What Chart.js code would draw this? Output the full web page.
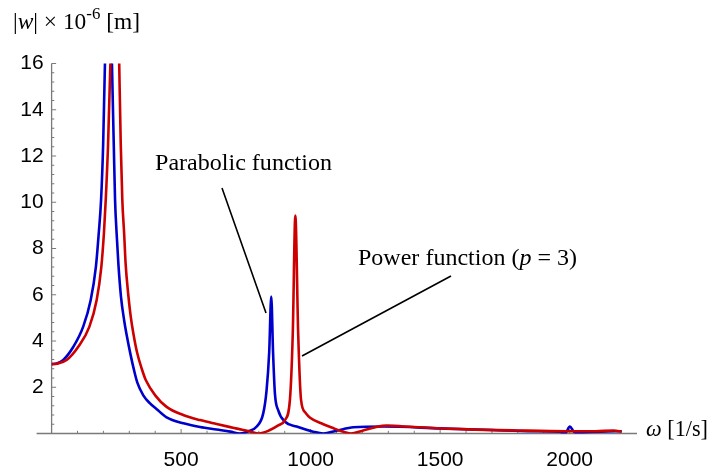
<!DOCTYPE html>
<html>
<head>
<meta charset="utf-8">
<script src="https://cdn.jsdelivr.net/npm/chart.js@4/dist/chart.umd.min.js"></script>
<style>
  html, body { margin: 0; padding: 0; background: #fff; }
  #wrap { width: 712px; height: 471px; position: relative; }
</style>
</head>
<body>
<div id="wrap"><canvas id="chart"></canvas></div>
<script>
  // values (omega in 1/s, |w| in 1e-6 m)
  const omegaParabolic = [0, 20, 45, 84, 122, 151, 171, 182, 191, 199, 206, 211, 219, 228, 233, 240, 245, 251, 258, 268, 280, 290, 305, 318, 331, 354, 380, 406, 444, 509, 573, 637, 690, 727, 760, 792, 817, 830, 840, 848, 855, 862, 875, 901, 946, 1010, 1049, 1100, 1165, 1281, 1500, 1700, 1860, 1960, 1982, 2001, 2015, 2027, 2060, 2120, 2201];
  const wParabolic = [3.0, 3.03, 3.18, 3.75, 4.62, 5.77, 7.21, 8.66, 10.1, 12.5, 16, 19, 40, 19, 16, 12.5, 10.1, 8.66, 7.3, 5.9, 4.9, 4.25, 3.4, 2.75, 2.2, 1.65, 1.3, 1.05, 0.7, 0.44, 0.28, 0.17, 0.08, 0.0, 0.1, 0.3, 0.87, 1.88, 3.5, 5.92, 3.5, 1.75, 1.0, 0.51, 0.3, 0.08, 0.0, 0.12, 0.27, 0.3, 0.22, 0.15, 0.1, 0.08, 0.0, 0.3, 0.1, 0.02, 0.05, 0.08, 0.1];

  const omegaPower = [0, 20, 58, 103, 146, 174, 192, 202, 209, 218, 227, 232, 245, 256, 261, 267, 273, 280, 286, 296, 305, 316, 330, 348, 364, 400, 444, 508, 573, 637, 700, 740, 770, 800, 843, 875, 901, 920, 931, 941, 952, 963, 980, 998, 1049, 1090, 1120, 1155, 1200, 1250, 1294, 1400, 1603, 1800, 1989, 2100, 2170, 2201];
  const wPower = [3.0, 3.02, 3.18, 3.75, 4.62, 5.77, 7.21, 8.66, 10.1, 12.5, 16, 19, 40, 19, 16, 12.5, 10.1, 8.66, 7.3, 6.0, 5.1, 4.3, 3.5, 2.8, 2.3, 1.65, 1.15, 0.8, 0.58, 0.41, 0.25, 0.15, 0.07, 0.0, 0.15, 0.35, 0.58, 1.45, 4.3, 9.42, 4.3, 1.45, 0.9, 0.68, 0.4, 0.22, 0.1, 0.0, 0.12, 0.27, 0.34, 0.28, 0.18, 0.13, 0.1, 0.1, 0.13, 0.08];

  const xTickLabels = [500, 1000, 1500, 2000];
  const yTickLabels = [2, 4, 6, 8, 10, 12, 14, 16];

  const toPoints = (xs, ys) => xs.map((x, i) => ({ x, y: ys[i] }));
  const near = (v, list) => list.some(t => Math.abs(v - t) < 1e-6);

  // axes with inward ticks, drawn from the library's scales
  const axesPlugin = {
    id: 'axes',
    beforeDatasetsDraw(chart) {
      const { ctx, scales: { x, y } } = chart;
      const x0 = x.getPixelForValue(0);
      const y0 = y.getPixelForValue(0);
      ctx.save();
      ctx.strokeStyle = '#7a7a7a';
      ctx.lineWidth = 1.3;
      ctx.beginPath();
      ctx.moveTo(x0 - 15, y0);
      ctx.lineTo(x.right, y0);
      ctx.moveTo(x0, y0);
      ctx.lineTo(x0, y.getPixelForValue(16));
      ctx.stroke();
      ctx.lineWidth = 1;
      ctx.beginPath();
      x.ticks.forEach(t => {
        if (t.value <= 0 || Math.abs(t.value / 100 - Math.round(t.value / 100)) > 1e-6) return;
        const px = x.getPixelForValue(t.value);
        const len = near(t.value, xTickLabels) ? 4.5 : 2.7;
        ctx.moveTo(px, y0);
        ctx.lineTo(px, y0 - len);
      });
      y.ticks.forEach(t => {
        if (t.value <= 0) return;
        const py = y.getPixelForValue(t.value);
        const len = near(t.value, yTickLabels) ? 4.5 : 2.7;
        ctx.moveTo(x0, py);
        ctx.lineTo(x0 + len, py);
      });
      ctx.stroke();
      ctx.restore();
    }
  };

  // serif text pieces: [text, italic, superscript]
  function drawText(ctx, parts, left, baseline, size, width) {
    const font = (it, s) => (it ? 'italic ' : '') + s + 'px "Liberation Serif"';
    let natural = 0;
    parts.forEach(([t, it, sup]) => {
      ctx.font = font(it, sup ? size * 0.72 : size);
      natural += ctx.measureText(t).width;
    });
    ctx.save();
    ctx.translate(left, baseline);
    ctx.scale(width / natural, 1);
    ctx.fillStyle = '#000';
    ctx.textBaseline = 'alphabetic';
    let cx = 0;
    parts.forEach(([t, it, sup]) => {
      ctx.font = font(it, sup ? size * 0.72 : size);
      ctx.fillText(t, cx, sup ? -size * 0.42 : 0);
      cx += ctx.measureText(t).width;
    });
    ctx.restore();
  }

  const labelPlugin = {
    id: 'labels',
    afterDraw(chart) {
      const ctx = chart.ctx;
      drawText(ctx, [['|', false], ['w', true], ['| \u00d7 10', false], ['-6', false, true], [' [m]', false]], 13, 28.5, 22.5, 127);
      drawText(ctx, [['\u03c9', true], [' [1/s]', false]], 646, 436, 22.5, 62);
      drawText(ctx, [['Parabolic function', false]], 155, 170, 22.5, 177);
      drawText(ctx, [['Power function (', false], ['p', true], [' = 3)', false]], 358, 265, 22.5, 219);
      ctx.save();
      ctx.strokeStyle = '#000';
      ctx.lineWidth = 1.6;
      ctx.beginPath();
      ctx.moveTo(222, 188);
      ctx.lineTo(266, 313);
      ctx.moveTo(451, 276);
      ctx.lineTo(302, 356);
      ctx.stroke();
      ctx.restore();
    }
  };

  const tickFont = { family: 'Liberation Sans', size: 21 };

  new Chart(document.getElementById('chart'), {
    type: 'line',
    data: {
      datasets: [{
        label: 'Power function (p = 3)',
        data: toPoints(omegaPower, wPower),
        borderColor: '#cc0000',
        borderWidth: 2.6,
        pointRadius: 0,
        cubicInterpolationMode: 'monotone',
        fill: false
      }, {
        label: 'Parabolic function',
        data: toPoints(omegaParabolic, wParabolic),
        borderColor: '#0000cc',
        borderWidth: 2.6,
        pointRadius: 0,
        cubicInterpolationMode: 'monotone',
        fill: false
      }]
    },
    options: {
      responsive: true,
      maintainAspectRatio: false,
      animation: false,
      devicePixelRatio: 1,
      layout: { padding: { left: 0, right: 75, top: 63.5, bottom: 0 } },
      plugins: { legend: { display: false }, tooltip: { enabled: false } },
      scales: {
        x: {
          type: 'linear',
          min: 0,
          max: 2260,
          grid: { display: false, drawTicks: false },
          border: { display: false },
          ticks: {
            stepSize: 100,
            autoSkip: false,
            maxRotation: 0,
            minRotation: 0,
            padding: 14,
            color: '#000',
            font: tickFont,
            callback: v => near(v, xTickLabels) ? String(v) : ''
          },
          afterFit: s => { s.height = 37.5; }
        },
        y: {
          min: 0,
          max: 16,
          grid: { display: false, drawTicks: false },
          border: { display: false },
          ticks: {
            stepSize: 0.4,
            autoSkip: false,
            padding: 8,
            color: '#000',
            font: tickFont,
            callback: v => near(v, yTickLabels) ? String(Math.round(v)) : ''
          },
          afterFit: s => { s.width = 51.6; }
        }
      }
    },
    plugins: [axesPlugin, labelPlugin]
  });
</script>
</body>
</html>
